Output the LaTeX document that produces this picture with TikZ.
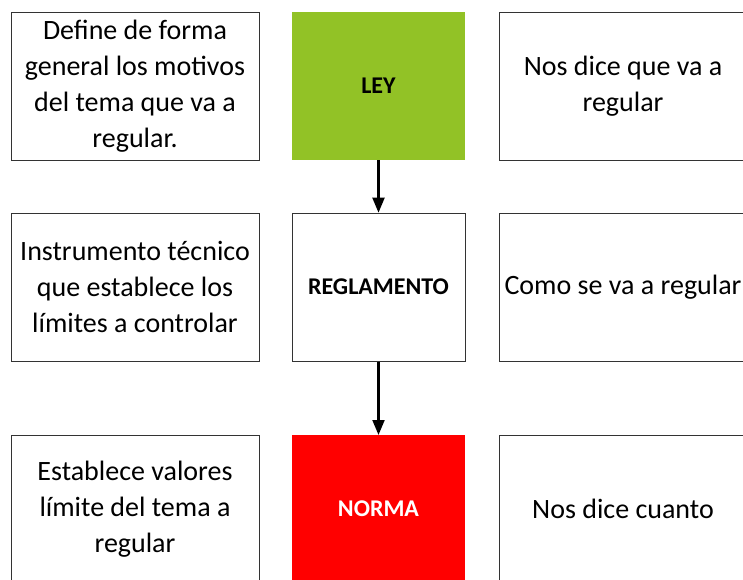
\documentclass[tikz,border=0pt]{standalone}
\usepackage{fontspec}
\setmainfont{Carlito}
\usetikzlibrary{arrows,shapes}
\definecolor{leygreen}{RGB}{146,194,38}
\tikzstyle{textbox}=[rectangle,draw=black!80,line width=1pt,minimum width=248pt,minimum height=148pt,inner sep=0pt,align=center,font=\fontsize{28}{36}\selectfont]
\tikzstyle{levelbox}=[rectangle,minimum width=173pt,minimum height=148pt,inner sep=0pt,font=\fontsize{24}{28}\selectfont\bfseries]
\tikzstyle{edge} = [draw,line width=2.5pt,-triangle 45]

\begin{document}
\begin{tikzpicture}[x=1pt,y=-1pt]
    \useasboundingbox (0,0) rectangle (743,579);
    \clip (0,0) rectangle (743,579);

    \node[levelbox, fill=leygreen] (ley) at (378.5, 86) {LEY};
    \node[levelbox, draw=black!80, line width=1pt] (reglamento) at (378.5, 287) {REGLAMENTO};
    \node[levelbox, fill=red, text=white] (norma) at (378.5, 509) {NORMA};

    \foreach \pos/\name/\txt in {{(135, 86)/leyleft/{Define de forma\\general los motivos\\del tema que va a\\regular.}},
                                 {(135, 287)/reglleft/{Instrumento técnico\\que establece los\\límites a controlar}},
                                 {(135, 509)/normaleft/{Establece valores\\límite del tema a\\regular}}}
        \node[textbox] (\name) at \pos {\txt};

    \foreach \pos/\name/\txt in {{(623, 86)/leyright/{Nos dice que va a\\regular}},
                                 {(623, 287)/reglright/{Como se va a regular}},
                                 {(623, 509)/normaright/{Nos dice cuanto}}}
        \node[textbox] (\name) at \pos {\txt};

    \foreach \source/ \dest in {ley/reglamento, reglamento/norma}
        \path[edge] (\source) -- (\dest);

\end{tikzpicture}
\end{document}
